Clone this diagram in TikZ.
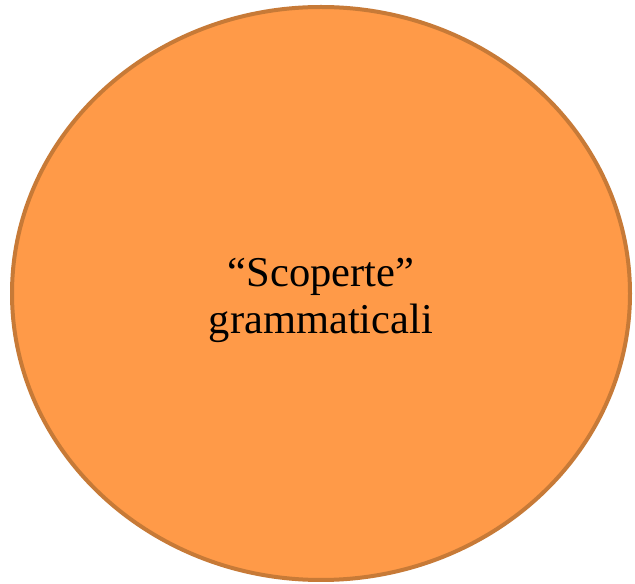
\documentclass[tikz,border=0pt]{standalone}
\usepackage{fontspec}
\setmainfont{Liberation Serif}
\usepackage{tikz}
\usepackage{xcolor}

\definecolor{blobfill}{HTML}{FF9A48}
\definecolor{blobline}{HTML}{C77A37}

\begin{document}
\begin{tikzpicture}[x=1pt, y=1pt]
    \useasboundingbox (0,0) rectangle (635,584);
    % Big orange ellipse
    \draw[line width=4pt, blobline, fill=blobfill] (321,290.5) ellipse (309 and 286.5);
    \node[align=center, font=\fontsize{42.5}{47}\selectfont] (scoperte) at (321,284) {``Scoperte''\\grammaticali};
\end{tikzpicture}
\end{document}
